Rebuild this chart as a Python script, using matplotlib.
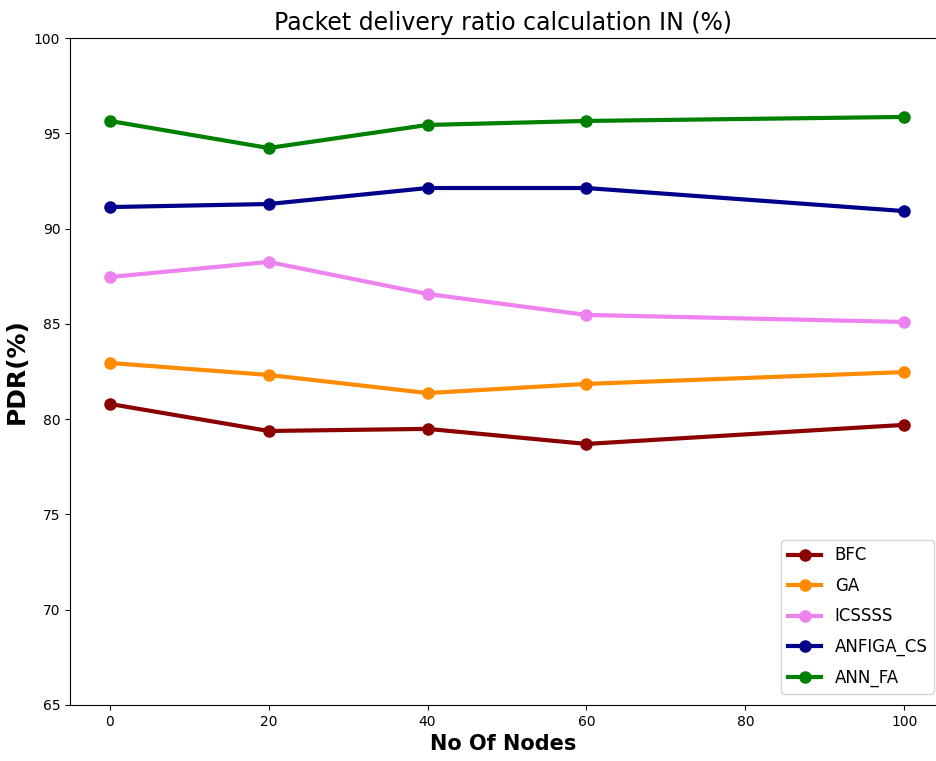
import matplotlib
matplotlib.use("Agg")
import matplotlib.pyplot as plt

nodes = [0, 20, 40, 60, 100]
bfc = [80.8, 79.38, 79.49, 78.7, 79.70]
ga = [82.95, 82.32, 81.37, 81.85, 82.47]
icssss = [87.46, 88.25, 86.57, 85.47, 85.10]
anfiga_cs = [91.13, 91.29, 92.13, 92.13, 90.92]
ann_fa = [95.65, 94.23, 95.44, 95.65, 95.86]

series = [
    ("BFC", bfc, "darkred"),
    ("GA", ga, "darkorange"),
    ("ICSSSS", icssss, "violet"),
    ("ANFIGA_CS", anfiga_cs, "darkblue"),
    ("ANN_FA", ann_fa, "green"),
]

fig = plt.figure(figsize=(9.36, 7.61), dpi=100)
ax = fig.add_axes([0.0748, 0.0736, 0.9252, 0.8764])

for name, values, color in series:
    ax.plot(nodes, values, color=color, linewidth=3, marker="o", markersize=8, label=name)

ax.set_xlim(-5, 104)
ax.set_ylim(65, 100)
ax.set_xticks([0, 20, 40, 60, 80, 100])
ax.set_yticks(range(65, 101, 5))
ax.tick_params(labelsize=10)
ax.spines["right"].set_visible(False)

ax.set_title("Packet delivery ratio calculation IN (%)", fontsize=17)
ax.set_xlabel("No Of Nodes", fontsize=15, fontweight="bold")
ax.set_ylabel("PDR(%)", fontsize=18, fontweight="bold")
ax.legend(loc="lower right", bbox_to_anchor=(0.998, 0.017), borderaxespad=0,
          fontsize=12, labelspacing=0.75)

fig.savefig("out.png", dpi=100)
